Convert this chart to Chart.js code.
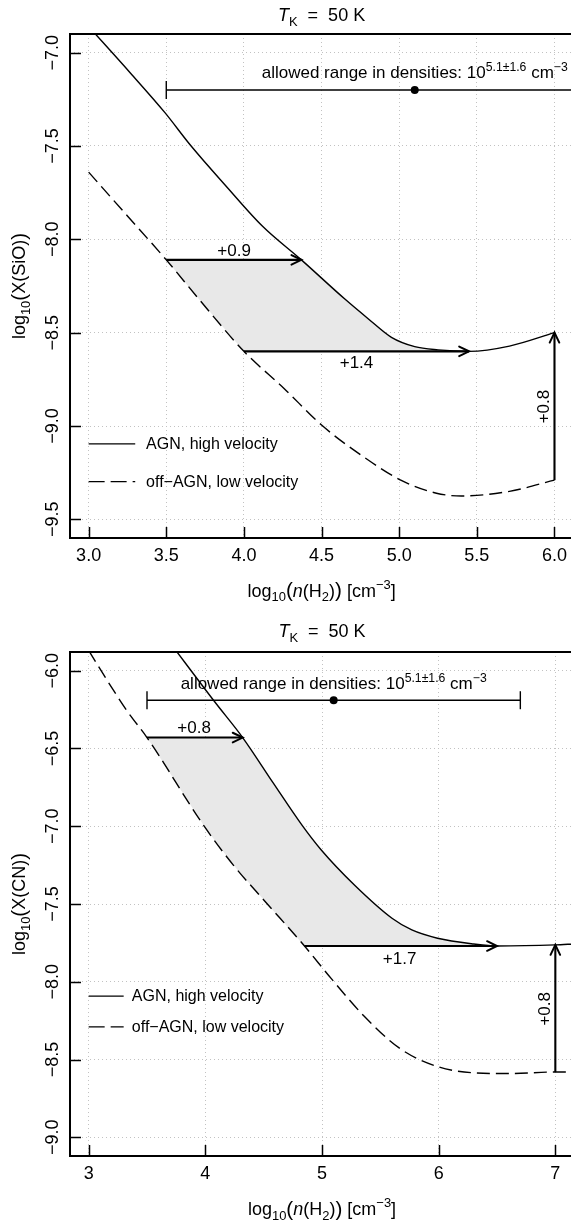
<!DOCTYPE html>
<html>
<head>
<meta charset="utf-8">
<script src="https://cdn.jsdelivr.net/npm/chart.js@4.4.1/dist/chart.umd.min.js"></script>
<style>
html, body { margin: 0; padding: 0; background: #fff; overflow: hidden; }
canvas { display: block; }
</style>
</head>
<body>
<canvas id="sio" width="574" height="611"></canvas>
<canvas id="cn" width="574" height="611"></canvas>
<script>
var FAM = '"Liberation Sans", Arial, Helvetica, sans-serif';

// ---- SiO panel ----
var sioXTicks = [3.0, 3.5, 4.0, 4.5, 5.0, 5.5, 6.0];
var sioYTicks = [-9.5, -9.0, -8.5, -8.0, -7.5, -7.0];
var sioAgnX = [3.0, 3.27, 3.49, 3.66, 3.88, 4.12, 4.37, 4.65, 4.80, 4.95, 5.10, 5.25, 5.45, 5.71, 6.0];
var sioAgnY = [-6.86, -7.11, -7.32, -7.50, -7.71, -7.93, -8.11, -8.32, -8.425, -8.525, -8.575, -8.592, -8.60, -8.572, -8.50];
var sioOffX = [3.0, 3.25, 3.5, 3.71, 4.0, 4.26, 4.5, 4.77, 5.01, 5.24, 5.40, 5.71, 6.0];
var sioOffY = [-7.64, -7.875, -8.11, -8.32, -8.60, -8.80, -8.995, -9.165, -9.29, -9.36, -9.375, -9.35, -9.29];
var sioArrows = [[3.5, -8.11, 4.37, -8.11], [4.0, -8.60, 5.45, -8.60], [6.0, -9.29, 6.0, -8.50]];
var sioArrowText = ['+0.9', '+1.4', '+0.8'];
var sioBarY = -7.2;

// ---- CN panel ----
var cnXTicks = [3, 4, 5, 6, 7];
var cnYTicks = [-9.0, -8.5, -8.0, -7.5, -7.0, -6.5, -6.0];
var cnAgnX = [3.70, 4.08, 4.32, 4.58, 4.83, 4.99, 5.28, 5.60, 5.77, 5.99, 6.30, 6.50, 7.0, 7.16];
var cnAgnY = [-5.823, -6.20, -6.43, -6.72, -6.995, -7.15, -7.38, -7.592, -7.667, -7.72, -7.757, -7.77, -7.763, -7.757];
var cnOffX = [3.0, 3.14, 3.33, 3.5, 3.99, 4.24, 4.52, 4.85, 5.08, 5.36, 5.67, 5.99, 6.30, 6.60, 7.0, 7.16];
var cnOffY = [-5.87, -6.04, -6.26, -6.43, -7.0, -7.25, -7.49, -7.77, -7.98, -8.22, -8.43, -8.545, -8.585, -8.59, -8.58, -8.58];
var cnArrows = [[3.5, -6.43, 4.32, -6.43], [4.85, -7.77, 6.5, -7.77], [7.0, -8.58, 7.0, -7.763]];
var cnArrowText = ['+0.8', '+1.7', '+0.8'];
var cnBarY = -6.19;

// allowed density range 10^(5.1 +/- 1.6)
var densityMid = 5.1, densitySpread = 1.6;
var legendLabels = ['AGN, high velocity', 'off\u2212AGN, low velocity'];

var panels = [
    { el: 'sio', species: 'SiO', xMin: 2.88, xMax: 6.12, yMin: -9.6, yMax: -6.9, xDec: 1,
      xTicks: sioXTicks, yTicks: sioYTicks, agnX: sioAgnX, agnY: sioAgnY, offX: sioOffX, offY: sioOffY,
      arrows: sioArrows, arrowText: sioArrowText, barY: sioBarY,
      arrowPos: [[3.937, -8.089, false], [4.725, -8.69, false], [5.963, -8.896, true]],
      barTextY: -7.134, legendY: [-9.096, -9.298], padTop: 34, xAxisH: 73, titleBase: 21, xTitleBase: 596.5 },
    { el: 'cn', species: 'CN', xMin: 2.84, xMax: 7.16, yMin: -9.12, yMax: -5.88, xDec: 0,
      xTicks: cnXTicks, yTicks: cnYTicks, agnX: cnAgnX, agnY: cnAgnY, offX: cnOffX, offY: cnOffY,
      arrows: cnArrows, arrowText: cnArrowText, barY: cnBarY,
      arrowPos: [[3.904, -6.398, false], [5.665, -7.888, false], [6.957, -8.174, true]],
      barTextY: -6.118, legendY: [-8.092, -8.29], padTop: 41, xAxisH: 66, titleBase: 26.3, xTitleBase: 604 }
];

function fnt(size, italic) { return (italic ? 'italic ' : '') + size + 'px ' + FAM; }

// parts: [text, mode, gap]; mode '' normal, 'i' italic, 'b' subscript, 'p' superscript, 'L' large, 'g' gap
function drawRich(ctx, parts, x, y, size, rotate) {
    ctx.save();
    ctx.translate(x, y);
    if (rotate) ctx.rotate(-Math.PI / 2);
    var w = 0, items = [];
    parts.forEach(function(pt) {
        if (pt[1] === 'g') { w += pt[2]; return; }
        var s = size, dy = 0, it = false;
        if (pt[1] === 'b') { s = size * 0.72; dy = size * 0.26; }
        else if (pt[1] === 'p') { s = size * 0.72; dy = -size * 0.42; }
        else if (pt[1] === 'i') it = true;
        else if (pt[1] === 'L') { s = size * 1.15; dy = size * 0.03; }
        var f = fnt(s, it);
        ctx.font = f;
        items.push({ t: pt[0], f: f, dy: dy, x: w });
        w += ctx.measureText(pt[0]).width;
    });
    ctx.fillStyle = '#000';
    ctx.textAlign = 'left';
    ctx.textBaseline = 'alphabetic';
    items.forEach(function(it) { ctx.font = it.f; ctx.fillText(it.t, it.x - w / 2, it.dy); });
    ctx.restore();
}

function shadeRing(p) {
    var top = p.arrows[0], bot = p.arrows[1], ring = [[top[0], top[1]], [top[2], top[3]]];
    p.agnX.forEach(function(x, i) { if (x > top[2] && x < bot[2]) ring.push([x, p.agnY[i]]); });
    ring.push([bot[2], bot[3]], [bot[0], bot[1]]);
    for (var i = p.offX.length - 1; i >= 0; i--) {
        if (p.offX[i] > top[0] && p.offX[i] < bot[0]) ring.push([p.offX[i], p.offY[i]]);
    }
    return ring;
}

function pts(xs, ys) { return xs.map(function(x, i) { return { x: x, y: ys[i] }; }); }

function panelPlugin(p) {
    return {
        id: 'panel_' + p.el,
        beforeDatasetsDraw: function(chart) {
            var ctx = chart.ctx, a = chart.chartArea, xs = chart.scales.x, ys = chart.scales.y;
            ctx.save();
            ctx.beginPath(); ctx.rect(a.left, a.top, a.right - a.left, a.bottom - a.top); ctx.clip();
            ctx.beginPath();
            shadeRing(p).forEach(function(q, i) {
                var X = xs.getPixelForValue(q[0]), Y = ys.getPixelForValue(q[1]);
                if (i) ctx.lineTo(X, Y); else ctx.moveTo(X, Y);
            });
            ctx.closePath();
            ctx.fillStyle = '#e8e8e8';
            ctx.fill();
            ctx.restore();
        },
        afterDatasetsDraw: function(chart) {
            var ctx = chart.ctx, xs = chart.scales.x, ys = chart.scales.y;
            ctx.save();
            ctx.strokeStyle = '#000'; ctx.lineWidth = 2; ctx.lineCap = 'round';
            p.arrows.forEach(function(ar) {
                var x0 = xs.getPixelForValue(ar[0]), y0 = ys.getPixelForValue(ar[1]);
                var x1 = xs.getPixelForValue(ar[2]), y1 = ys.getPixelForValue(ar[3]);
                var ang = Math.atan2(y1 - y0, x1 - x0), L = 11, h = 0.45;
                ctx.beginPath();
                ctx.moveTo(x1 - L * Math.cos(ang - h), y1 - L * Math.sin(ang - h));
                ctx.lineTo(x1, y1);
                ctx.lineTo(x1 - L * Math.cos(ang + h), y1 - L * Math.sin(ang + h));
                ctx.stroke();
            });
            ctx.restore();
            p.arrowText.forEach(function(t, i) {
                var ap = p.arrowPos[i];
                drawRich(ctx, [[t, '']], xs.getPixelForValue(ap[0]), ys.getPixelForValue(ap[1]), 17, ap[2]);
            });
            drawRich(ctx, [['allowed range in densities: 10', ''], ['5.1\u00b11.6', 'p'], [' cm', ''], ['\u22123', 'p']],
                xs.getPixelForValue(densityMid), ys.getPixelForValue(p.barTextY), 17, false);
        },
        afterDraw: function(chart) {
            var ctx = chart.ctx, a = chart.chartArea, xs = chart.scales.x, ys = chart.scales.y;
            ctx.save();
            ctx.strokeStyle = '#000';
            ctx.lineWidth = 2;
            ctx.strokeRect(a.left, a.top, a.right - a.left, a.bottom - a.top);
            ctx.lineWidth = 1.5;
            ctx.beginPath();
            p.xTicks.forEach(function(v) {
                var X = Math.round(xs.getPixelForValue(v)) + 0.5;
                ctx.moveTo(X, a.bottom); ctx.lineTo(X, a.bottom - 11);
            });
            p.yTicks.forEach(function(v) {
                var Y = Math.round(ys.getPixelForValue(v)) + 0.5;
                ctx.moveTo(a.left, Y); ctx.lineTo(a.left + 11, Y);
            });
            ctx.stroke();

            // legend
            ctx.lineWidth = 1.4;
            ctx.font = fnt(16);
            ctx.fillStyle = '#000';
            ctx.textBaseline = 'middle';
            ctx.textAlign = 'left';
            legendLabels.forEach(function(lab, i) {
                var Y = ys.getPixelForValue(p.legendY[i]);
                ctx.setLineDash(i ? [16, 6] : []);
                ctx.beginPath();
                ctx.moveTo(xs.getPixelForValue(3.0), Y);
                ctx.lineTo(xs.getPixelForValue(3.3), Y);
                ctx.stroke();
                ctx.fillText(lab, xs.getPixelForValue(3.37), Y + 1);
            });
            ctx.setLineDash([]);
            ctx.restore();

            // rotated y tick labels
            p.yTicks.forEach(function(v) {
                drawRich(ctx, [[v.toFixed(1).replace('-', '\u2212'), '']], 58, ys.getPixelForValue(v), 18, true);
            });

            var cx = (a.left + a.right) / 2;
            drawRich(ctx, [['T', 'i'], ['K', 'b'], ['', 'g', 5], [' = ', ''], ['', 'g', 5], ['50 K', '']], cx, p.titleBase, 18, false);
            drawRich(ctx, [['log', ''], ['10', 'b'], ['(', 'L'], ['n', 'i'], ['(H', ''], ['2', 'b'], [')', ''], [')', 'L'], [' [cm', ''], ['\u22123', 'p'], [']', '']],
                cx, p.xTitleBase, 18, false);
            drawRich(ctx, [['log', ''], ['10', 'b'], ['(', 'L'], ['X', ''], ['(' + p.species + ')', ''], [')', 'L']],
                25, (a.top + a.bottom) / 2, 18, true);
        }
    };
}

function build(p) {
    var ds = [];
    ds.push({ data: pts(p.agnX, p.agnY), borderColor: '#000', borderWidth: 1.4, cubicInterpolationMode: 'monotone' });
    ds.push({ data: pts(p.offX, p.offY), borderColor: '#000', borderWidth: 1.4, borderDash: [13, 6], cubicInterpolationMode: 'monotone' });
    p.arrows.forEach(function(ar) {
        ds.push({ data: [{ x: ar[0], y: ar[1] }, { x: ar[2], y: ar[3] }], borderColor: '#000', borderWidth: 2.1 });
    });
    ds.push({ data: [{ x: densityMid - densitySpread, y: p.barY }, { x: densityMid + densitySpread, y: p.barY }],
        borderColor: '#000', borderWidth: 1.4, pointStyle: 'line', pointRotation: 90, pointRadius: 9, pointBorderWidth: 1.4, pointBorderColor: '#000' });
    ds.push({ data: [{ x: densityMid, y: p.barY }], showLine: false, pointRadius: 4, pointBackgroundColor: '#000', pointBorderColor: '#000', pointBorderWidth: 0 });
    ds.forEach(function(d) {
        if (d.showLine === undefined) d.showLine = true;
        if (d.pointRadius === undefined) d.pointRadius = 0;
        d.fill = false;
    });

    var grid = { color: '#c2c2c2', lineWidth: 1, drawTicks: false };
    new Chart(document.getElementById(p.el), {
        type: 'scatter',
        data: { datasets: ds },
        options: {
            responsive: false, animation: false, devicePixelRatio: 1, events: [],
            layout: { autoPadding: false, padding: { top: p.padTop, left: 0, right: 0, bottom: 0 } },
            plugins: { legend: { display: false }, tooltip: { enabled: false } },
            scales: {
                x: {
                    type: 'linear', min: p.xMin, max: p.xMax,
                    afterBuildTicks: function(s) { s.ticks = p.xTicks.map(function(v) { return { value: v }; }); },
                    afterFit: function(s) { s.height = p.xAxisH; },
                    ticks: { color: '#000', padding: 7, font: { family: FAM, size: 18 }, maxRotation: 0, autoSkip: false,
                        callback: function(v) { return Number(v).toFixed(p.xDec); } },
                    grid: grid, border: { display: false, dash: [1, 3] }
                },
                y: {
                    type: 'linear', min: p.yMin, max: p.yMax,
                    afterBuildTicks: function(s) { s.ticks = p.yTicks.map(function(v) { return { value: v }; }); },
                    afterFit: function(s) { s.width = 70; },
                    ticks: { display: false },
                    grid: grid, border: { display: false, dash: [1, 3] }
                }
            }
        },
        plugins: [panelPlugin(p)]
    });
}

panels.forEach(build);
</script>
</body>
</html>
